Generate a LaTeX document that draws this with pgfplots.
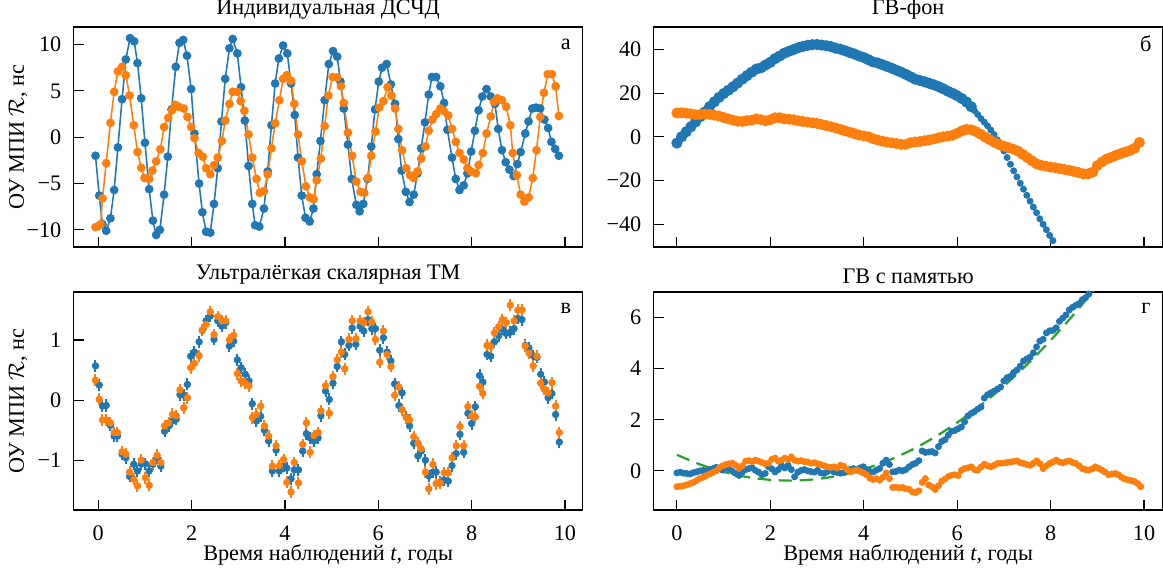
\documentclass[border=0pt]{standalone}
\usepackage{fontspec}
\setmainfont{Liberation Serif}
\usepackage{pgfplots}
\pgfplotsset{compat=1.18}
\definecolor{tblue}{HTML}{1F77B4}
\definecolor{torange}{HTML}{FF7F0E}
\definecolor{tgreen}{HTML}{2CA02C}
\pgfplotsset{
  every axis title shift=0pt,
  panel/.style={scale only axis, width=229.1pt,
    tick align=inside, xtick pos=bottom, ytick pos=left, major tick length=4.5pt,
    xtick={0,2,4,6,8,10}, xticklabels={},
    axis line style={line width=0.7pt}, tick style={black, line width=0.5pt},
    yticklabel style={xshift=-2pt},
    xticklabel style={yshift=-3.4pt},
    ylabel style={at={(axis description cs:-0.109,0.5)}, anchor=center},
    xlabel style={at={(axis description cs:0.5,-0.206)}, anchor=center},
  },
  leftcol/.style={xmin=-0.53, xmax=10.38, ylabel={ОУ МПИ $\mathcal{R}$, нс}},
  rightcol/.style={xmin=-0.5, xmax=10.4},
  bottomrow/.style={xticklabels={0,2,4,6,8,10}, xlabel={Время наблюдений \textit{t}, годы}},
}
\begin{document}
\begin{tikzpicture}
\useasboundingbox (0,0) rectangle (523.35pt,258.3pt);

% а: individual
\begin{axis}[panel, leftcol, at={(33.1pt,147.15pt)}, anchor=south west, height=99pt,
  ymin=-11.85, ymax=11.9, ytick={-10,-5,0,5,10}, yticklabels={−10,−5,0,5,10},
  title={Индивидуальная ДСЧД}]
\addplot[tblue, line width=0.7pt, mark=*, mark size=1.6pt] coordinates {
(-0.06,-2.0) (0.02,-6.3) (0.09,-9.4) (0.17,-10.1) (0.26,-8.75) (0.34,-5.7) (0.42,-1.1) (0.51,4.1) (0.59,8.4) (0.68,10.7) (0.77,10.35) (0.84,8.0) (0.92,4.2) (1.0,-0.6) (1.09,-5.6) (1.17,-9.0) (1.24,-10.55) (1.32,-10.0) (1.41,-6.2) (1.49,-2.1) (1.57,3.0) (1.66,7.6) (1.74,10.2) (1.82,10.5) (1.90,8.8) (1.99,5.2) (2.06,0.4) (2.16,-5.0) (2.23,-8.1) (2.31,-10.2) (2.40,-10.3) (2.48,-7.2) (2.56,-3.35) (2.64,1.7) (2.72,6.3) (2.81,9.6) (2.88,10.6) (2.98,9.05) (3.06,5.4) (3.14,1.8) (3.22,-3.1) (3.30,-7.2) (3.36,-9.5) (3.45,-9.65) (3.55,-7.7) (3.63,-3.7) (3.71,1.3) (3.79,5.8) (3.87,8.5) (3.96,9.9) (4.05,9.05) (4.13,5.8) (4.21,2.4) (4.28,-2.2) (4.36,-6.3) (4.44,-8.7) (4.53,-9.1) (4.61,-7.7) (4.68,-4.0) (4.76,-0.4) (4.85,4.0) (4.94,7.9) (5.03,9.3) (5.12,8.7) (5.19,6.0) (5.26,3.1) (5.35,-0.8) (5.43,-4.5) (5.53,-7.3) (5.60,-8.0) (5.68,-7.2) (5.77,-4.5) (5.85,-1.0) (5.93,3.0) (6.01,6.0) (6.08,7.5) (6.18,7.9) (6.27,5.7) (6.36,3.6) (6.43,-0.2) (6.50,-3.6) (6.59,-5.9) (6.67,-7.0) (6.76,-6.2) (6.84,-3.9) (6.92,-1.2) (7.00,1.6) (7.08,4.6) (7.15,6.5) (7.24,6.5) (7.33,5.5) (7.41,3.7) (7.48,0.8) (7.58,-2.2) (7.66,-4.5) (7.74,-5.7) (7.83,-5.2) (7.91,-3.9) (7.99,-1.55) (8.07,0.7) (8.15,2.9) (8.23,4.4) (8.32,5.2) (8.41,4.4) (8.50,3.6) (8.57,0.9) (8.65,-1.4) (8.73,-2.7) (8.81,-3.5) (8.90,-4.2) (8.98,-2.9) (9.05,-1.6) (9.15,0.4) (9.22,1.7) (9.30,3.1) (9.38,3.2) (9.47,3.1) (9.56,1.9) (9.64,1.0) (9.71,-0.5) (9.79,-1.26) (9.87,-2.0)
};
\addplot[torange, line width=0.7pt, mark=*, mark size=1.6pt] coordinates {
(-0.06,-9.7) (0.0,-9.6) (0.05,-9.4) (0.09,-6.6) (0.17,-2.8) (0.26,1.55) (0.34,4.9) (0.42,7.1) (0.51,7.6) (0.59,6.7) (0.67,4.5) (0.76,1.3) (0.84,-1.6) (0.92,-3.3) (0.99,-4.4) (1.09,-4.5) (1.16,-3.6) (1.24,-2.6) (1.33,-1.3) (1.41,1.1) (1.50,2.1) (1.58,2.9) (1.65,3.5) (1.72,3.3) (1.83,3.1) (1.91,2.2) (1.99,1.1) (2.06,-0.1) (2.15,-1.7) (2.24,-2.1) (2.31,-3.35) (2.40,-4.0) (2.48,-3.0) (2.56,-2.2) (2.65,-0.4) (2.72,1.8) (2.81,3.6) (2.88,4.9) (2.98,4.9) (3.05,3.9) (3.13,2.85) (3.22,0.3) (3.30,-2.2) (3.39,-4.5) (3.46,-6.0) (3.55,-5.8) (3.63,-4.0) (3.71,-1.2) (3.79,1.5) (3.88,4.0) (3.96,6.3) (4.04,6.7) (4.13,6.1) (4.20,3.6) (4.28,0.3) (4.36,-2.6) (4.45,-5.3) (4.53,-6.5) (4.61,-6.7) (4.68,-4.65) (4.77,-2.3) (4.85,1.2) (4.93,4.5) (5.02,6.5) (5.12,6.45) (5.20,5.5) (5.26,3.7) (5.35,0.5) (5.44,-2.0) (5.53,-4.8) (5.62,-5.9) (5.70,-6.0) (5.78,-4.4) (5.85,-2.0) (5.94,0.6) (6.02,3.2) (6.11,3.9) (6.20,5.4) (6.28,4.5) (6.36,3.1) (6.43,0.9) (6.51,-1.4) (6.60,-3.35) (6.68,-4.1) (6.76,-4.4) (6.84,-3.7) (6.92,-2.3) (7.01,-1.0) (7.08,0.7) (7.16,1.9) (7.24,2.5) (7.33,3.1) (7.40,2.85) (7.50,2.35) (7.58,0.9) (7.66,-0.5) (7.74,-1.7) (7.83,-2.4) (7.91,-3.35) (7.99,-3.7) (8.09,-3.9) (8.15,-3.0) (8.24,-1.7) (8.32,0.4) (8.41,2.25) (8.48,3.8) (8.55,4.2) (8.65,4.0) (8.74,3.3) (8.83,1.3) (8.88,-1.7) (8.97,-4.1) (9.05,-6.2) (9.13,-6.95) (9.22,-6.5) (9.31,-4.4) (9.39,-1.4) (9.47,2.2) (9.55,4.8) (9.63,6.8) (9.72,6.8) (9.80,5.5) (9.87,2.3)
};
\node at (rel axis cs:0.967,0.923) {а};
\end{axis}

% б: GW background
\begin{axis}[panel, rightcol, at={(294.1pt,147.15pt)}, anchor=south west, height=99pt,
  ymin=-50.5, ymax=50.3, ytick={-40,-20,0,20,40}, yticklabels={−40,−20,0,20,40},
  title={ГВ-фон}]
\addplot[tblue, line width=2.2pt, mark=*, mark size=1.35pt] coordinates {
(0.0,-2.9) (0.1,0.0) (0.2,2.3) (0.3,4.6) (0.4,6.8) (0.5,9.2) (0.6,11.4) (0.7,13.8) (0.8,16.0) (0.9,18.0) (1.0,19.8) (1.1,21.3) (1.2,22.9) (1.3,24.6) (1.4,26.4) (1.5,28.0) (1.6,29.6) (1.7,31.0) (1.8,31.6) (1.9,32.9) (2.0,34.1) (2.1,35.8) (2.2,37.0) (2.3,38.3) (2.4,39.2) (2.5,40.0) (2.6,40.8) (2.7,41.4) (2.8,41.9) (2.9,42.2) (3.0,42.3) (3.1,42.0) (3.2,41.7) (3.3,41.3) (3.4,40.6) (3.5,40.1) (3.6,39.4) (3.7,38.6) (3.8,37.9) (3.9,37.0) (4.0,36.3) (4.1,35.3) (4.2,34.3) (4.3,33.8) (4.4,33.0) (4.5,32.2) (4.6,31.4) (4.7,30.5) (4.8,29.6) (4.9,28.6) (5.0,27.5) (5.1,26.4) (5.2,25.8) (5.3,25.2) (5.4,24.5) (5.5,23.8) (5.6,23.0) (5.7,22.0) (5.8,20.9) (5.9,19.9) (6.0,18.8) (6.1,17.5) (6.2,15.9) (6.3,13.8)
};
\addplot[tblue, only marks, mark=*, mark size=1.35pt] coordinates {
(6.37,12.0) (6.44,10.2) (6.51,8.3) (6.58,6.7) (6.65,5.0) (6.72,3.1) (6.79,1.0) (6.86,-1.4) (6.93,-3.6) (7.00,-6.5) (7.07,-9.5) (7.14,-12.6) (7.21,-15.6) (7.28,-18.4) (7.35,-21.3) (7.42,-24.0) (7.49,-26.8) (7.56,-29.5) (7.63,-32.2) (7.70,-34.8) (7.77,-37.6) (7.84,-40.1) (7.91,-42.6) (7.98,-45.2) (8.05,-47.6)
};
\addplot[torange, line width=2.2pt, mark=*, mark size=1.3pt] coordinates {
(0.0,10.9) (0.1,11.0) (0.2,10.8) (0.3,10.5) (0.4,10.1) (0.5,10.2) (0.6,10.4) (0.7,10.3) (0.8,9.9) (0.9,9.5) (1.0,8.8) (1.1,8.2) (1.2,7.6) (1.3,7.1) (1.4,7.0) (1.5,7.4) (1.6,7.6) (1.7,8.2) (1.8,7.8) (1.9,7.3) (2.0,7.8) (2.1,8.7) (2.2,8.7) (2.3,8.2) (2.4,8.0) (2.5,7.8) (2.6,7.3) (2.7,7.0) (2.8,6.7) (2.9,6.4) (3.0,6.1) (3.1,5.6) (3.2,5.1) (3.3,4.6) (3.4,4.0) (3.5,3.4) (3.6,2.7) (3.7,2.1) (3.8,1.4) (3.9,0.8) (4.0,0.4) (4.1,0.0) (4.2,-0.9) (4.3,-1.5) (4.4,-2.0) (4.5,-2.5) (4.6,-2.8) (4.7,-3.1) (4.8,-3.5) (4.9,-3.5) (5.0,-2.7) (5.1,-2.4) (5.2,-2.2) (5.3,-1.8) (5.4,-1.5) (5.5,-1.0) (5.6,-0.5) (5.7,0.0) (5.8,0.3) (5.9,0.7) (6.0,1.6) (6.1,2.7) (6.2,3.4) (6.3,3.2) (6.4,2.4) (6.5,1.2) (6.6,-0.2) (6.7,-1.4) (6.8,-2.6) (6.9,-3.6) (7.0,-4.3) (7.1,-5.0) (7.2,-5.7) (7.3,-6.6) (7.4,-8.0) (7.5,-9.5) (7.6,-11.0) (7.7,-12.4) (7.8,-13.1) (7.9,-13.5) (8.0,-13.9) (8.1,-14.2) (8.2,-14.6) (8.3,-15.0) (8.4,-15.4) (8.5,-15.9) (8.6,-16.4) (8.7,-17.0) (8.8,-17.0) (8.9,-16.2) (9.0,-13.2) (9.1,-11.5) (9.2,-10.2) (9.3,-9.4) (9.4,-8.5) (9.5,-7.7) (9.6,-7.0) (9.7,-6.3) (9.8,-5.2) (9.9,-2.6)
};
\node at (rel axis cs:0.967,0.923) {б};
\end{axis}

% в: ultralight scalar DM
\begin{axis}[panel, leftcol, bottomrow, at={(33.1pt,28.8pt)}, anchor=south west, height=98.1pt,
  ymin=-1.83, ymax=1.8, ytick={-1,0,1}, yticklabels={−1,0,1},
  title={Ультралёгкая скалярная ТМ}]
\addplot[tblue, only marks, mark=*, mark size=1.45pt,
  error bars/.cd, y dir=both, y fixed=0.1, error mark=none, error bar style={line width=0.9pt}] coordinates {
(-0.06,0.57) (0.02,0.25) (0.09,-0.10) (0.17,-0.09) (0.26,-0.42) (0.34,-0.60) (0.41,-0.60) (0.51,-0.90) (0.59,-0.96) (0.67,-1.27) (0.76,-1.07) (0.84,-1.18) (0.92,-1.06) (1.01,-1.06) (1.09,-1.18) (1.17,-1.07) (1.26,-0.96) (1.34,-1.10) (1.42,-0.52) (1.51,-0.43) (1.59,-0.35) (1.67,-0.32) (1.75,0.09) (1.83,0.08) (1.91,0.26) (1.98,0.73) (2.06,0.80) (2.16,0.97) (2.23,1.16) (2.31,1.32) (2.40,1.40) (2.48,1.01) (2.56,1.32) (2.65,1.23) (2.73,1.29) (2.81,0.90) (2.90,0.98) (2.98,0.67) (3.06,0.54) (3.15,0.43) (3.23,0.32) (3.30,-0.06) (3.39,-0.35) (3.48,-0.27) (3.56,-0.50) (3.65,-0.68) (3.73,-1.18) (3.81,-0.83) (3.88,-1.18) (3.97,-1.10) (4.04,-1.13) (4.13,-1.31) (4.20,-1.16) (4.29,-1.16) (4.38,-0.85) (4.46,-0.56) (4.54,-0.63) (4.62,-0.68) (4.71,-0.63) (4.77,-0.26) (4.87,0.15) (4.95,0.01) (5.03,0.28) (5.12,0.56) (5.21,0.97) (5.28,0.76) (5.37,0.91) (5.44,1.20) (5.52,0.93) (5.61,1.23) (5.69,1.15) (5.78,1.34) (5.86,1.19) (5.94,1.19) (6.03,0.83) (6.11,1.04) (6.19,0.80) (6.27,0.65) (6.35,0.27) (6.44,-0.09) (6.51,0.12) (6.60,-0.28) (6.67,-0.43) (6.76,-0.72) (6.85,-0.93) (6.92,-0.85) (7.01,-1.00) (7.08,-1.26) (7.17,-1.20) (7.24,-1.20) (7.33,-1.37) (7.41,-1.33) (7.50,-1.35) (7.58,-1.09) (7.67,-0.89) (7.75,-0.57) (7.83,-0.87) (7.92,-0.22) (8.00,-0.39) (8.08,-0.11) (8.17,0.41) (8.24,0.30) (8.33,0.76) (8.41,0.73) (8.49,0.97) (8.58,1.07) (8.66,1.18) (8.74,1.11) (8.83,1.13) (8.91,1.19) (8.99,1.36) (9.08,1.34) (9.15,0.91) (9.23,0.87) (9.32,0.74) (9.40,0.71) (9.48,0.43) (9.56,0.30) (9.64,0.04) (9.72,0.11) (9.80,-0.24) (9.88,-0.70)
};
\addplot[torange, only marks, mark=*, mark size=1.45pt,
  error bars/.cd, y dir=both, y fixed=0.1, error mark=none, error bar style={line width=0.9pt}] coordinates {
(-0.06,0.33) (0.02,0.01) (0.09,-0.33) (0.17,-0.33) (0.26,-0.38) (0.34,-0.54) (0.41,-0.54) (0.51,-0.86) (0.59,-0.90) (0.67,-1.20) (0.76,-1.32) (0.84,-1.43) (0.92,-1.00) (1.01,-1.29) (1.09,-1.42) (1.17,-1.04) (1.26,-0.92) (1.34,-1.04) (1.42,-0.43) (1.51,-0.38) (1.59,-0.24) (1.67,-0.26) (1.75,0.17) (1.83,-0.13) (1.91,0.04) (1.98,0.54) (2.06,0.61) (2.16,0.74) (2.23,1.17) (2.31,1.26) (2.40,1.47) (2.48,1.09) (2.56,1.39) (2.65,1.32) (2.73,1.32) (2.81,1.00) (2.90,1.08) (2.98,0.44) (3.06,0.32) (3.15,0.28) (3.23,0.24) (3.30,-0.29) (3.39,-0.24) (3.48,-0.10) (3.56,-0.43) (3.65,-0.60) (3.73,-1.10) (3.81,-0.76) (3.88,-1.09) (3.97,-0.99) (4.04,-1.37) (4.13,-1.53) (4.20,-1.04) (4.29,-1.38) (4.38,-0.74) (4.46,-0.38) (4.54,-0.87) (4.62,-0.59) (4.71,-0.54) (4.77,-0.18) (4.87,0.24) (4.95,-0.22) (5.03,0.39) (5.12,0.67) (5.21,0.80) (5.28,0.52) (5.37,1.01) (5.44,1.32) (5.52,1.02) (5.61,1.32) (5.69,1.29) (5.78,1.47) (5.86,1.30) (5.94,1.01) (6.03,0.63) (6.11,1.15) (6.19,0.76) (6.27,0.56) (6.35,0.08) (6.44,0.22) (6.51,-0.16) (6.60,-0.29) (6.67,-0.33) (6.76,-0.61) (6.85,-0.72) (6.92,-0.81) (7.01,-1.20) (7.08,-1.48) (7.17,-1.07) (7.24,-1.39) (7.33,-1.38) (7.41,-1.21) (7.50,-1.21) (7.58,-0.96) (7.67,-0.76) (7.75,-0.44) (7.83,-0.76) (7.92,-0.11) (8.00,-0.27) (8.08,-0.28) (8.17,0.23) (8.24,0.11) (8.33,0.91) (8.41,0.89) (8.49,1.12) (8.58,1.22) (8.66,1.34) (8.74,1.29) (8.83,1.58) (8.91,1.32) (8.99,1.50) (9.08,1.50) (9.15,0.90) (9.23,0.78) (9.32,0.57) (9.40,0.73) (9.48,0.28) (9.56,0.18) (9.64,0.12) (9.72,0.29) (9.80,-0.10) (9.88,-0.54)
};
\node at (rel axis cs:0.967,0.923) {в};
\end{axis}

% г: GW memory
\begin{axis}[panel, rightcol, bottomrow, at={(294.1pt,28.8pt)}, anchor=south west, height=98.1pt,
  ymin=-1.53, ymax=7.0, ytick={0,2,4,6}, yticklabels={0,2,4,6},
  title={ГВ с памятью}]
\addplot[tblue, only marks, mark=*, mark size=1.35pt] coordinates {
(0.00,-0.08) (0.07,-0.05) (0.14,-0.09) (0.21,-0.10) (0.28,-0.12) (0.35,-0.07) (0.42,-0.04) (0.49,0.00) (0.56,0.02) (0.63,0.01) (0.70,0.05) (0.77,0.09) (0.84,0.14) (0.91,0.10) (0.98,0.03) (1.05,0.15) (1.12,0.07) (1.19,-0.02) (1.26,-0.10) (1.33,-0.18) (1.40,-0.05) (1.47,0.05) (1.54,0.09) (1.61,0.12) (1.68,0.02) (1.75,-0.05) (1.82,-0.15) (1.89,-0.10) (1.96,0.16) (2.03,0.08) (2.10,-0.04) (2.17,0.05) (2.24,0.20) (2.31,0.12) (2.38,0.22) (2.45,0.05) (2.52,-0.23) (2.59,-0.05) (2.66,0.02) (2.73,0.05) (2.80,0.00) (2.87,-0.03) (2.94,-0.05) (3.01,0.02) (3.08,-0.08) (3.15,-0.10) (3.22,-0.03) (3.29,0.04) (3.36,-0.04) (3.43,-0.06) (3.50,-0.09) (3.57,-0.07) (3.64,0.02) (3.71,0.06) (3.78,0.09) (3.85,0.05) (3.92,0.12) (3.99,0.16) (4.06,0.05) (4.13,-0.02) (4.20,-0.04) (4.27,0.03) (4.34,0.09) (4.41,0.30) (4.48,0.42) (4.55,0.25) (4.62,-0.04) (4.69,-0.02) (4.76,0.03) (4.83,0.00) (4.90,0.05) (4.97,0.16) (5.04,0.25) (5.11,0.30) (5.18,0.40) (5.25,0.78) (5.32,0.72) (5.39,0.74) (5.46,0.76) (5.53,0.70) (5.60,0.95) (5.67,1.15) (5.74,1.22) (5.81,1.40) (5.88,1.55) (5.95,1.58) (6.02,1.65) (6.09,1.72) (6.16,1.92) (6.23,2.15) (6.30,2.25) (6.37,2.32) (6.44,2.42) (6.51,2.50) (6.58,2.85) (6.65,2.98) (6.72,3.05) (6.79,3.12) (6.86,3.20) (6.93,3.28) (7.00,3.52) (7.07,3.65) (7.14,3.70) (7.21,3.85) (7.28,3.95) (7.35,4.10) (7.42,4.30) (7.49,4.38) (7.56,4.45) (7.63,4.62) (7.70,4.85) (7.77,5.08) (7.84,5.15) (7.91,5.40) (7.98,5.48) (8.05,5.50) (8.12,5.60) (8.19,5.85) (8.26,5.98) (8.33,6.10) (8.40,6.30) (8.47,6.40) (8.54,6.48) (8.61,6.55) (8.68,6.70) (8.75,6.78) (8.82,6.92) (8.89,7.05)
};
\addplot[torange, only marks, mark=*, mark size=1.35pt] coordinates {
(0.00,-0.62) (0.07,-0.60) (0.14,-0.58) (0.21,-0.55) (0.28,-0.50) (0.35,-0.45) (0.42,-0.38) (0.49,-0.30) (0.56,-0.25) (0.63,-0.18) (0.70,-0.12) (0.77,-0.06) (0.84,0.00) (0.91,0.12) (0.98,0.20) (1.05,0.25) (1.12,0.28) (1.19,0.30) (1.26,0.22) (1.33,0.10) (1.40,0.20) (1.47,0.38) (1.54,0.40) (1.61,0.36) (1.68,0.42) (1.75,0.38) (1.82,0.33) (1.89,0.28) (1.96,0.30) (2.03,0.45) (2.10,0.50) (2.17,0.38) (2.24,0.42) (2.31,0.50) (2.38,0.45) (2.45,0.55) (2.52,0.42) (2.59,0.38) (2.66,0.40) (2.73,0.36) (2.80,0.35) (2.87,0.30) (2.94,0.32) (3.01,0.28) (3.08,0.25) (3.15,0.20) (3.22,0.16) (3.29,0.14) (3.36,0.16) (3.43,0.12) (3.50,0.22) (3.57,0.18) (3.64,0.05) (3.71,-0.04) (3.78,0.00) (3.85,0.03) (3.92,-0.02) (3.99,-0.08) (4.06,-0.15) (4.13,-0.28) (4.20,-0.34) (4.27,-0.30) (4.34,-0.36) (4.41,-0.25) (4.48,-0.08) (4.55,-0.30) (4.62,-0.65) (4.69,-0.64) (4.76,-0.66) (4.83,-0.65) (4.90,-0.70) (4.97,-0.72) (5.04,-0.82) (5.11,-0.85) (5.18,-0.78) (5.25,-0.45) (5.32,-0.30) (5.39,-0.55) (5.46,-0.62) (5.53,-0.73) (5.60,-0.58) (5.67,-0.40) (5.74,-0.32) (5.81,-0.22) (5.88,-0.17) (5.95,-0.15) (6.02,-0.18) (6.09,0.02) (6.16,0.09) (6.23,0.12) (6.30,0.16) (6.37,0.05) (6.44,0.03) (6.51,0.15) (6.58,0.26) (6.65,0.20) (6.72,0.16) (6.79,0.22) (6.86,0.29) (6.93,0.30) (7.00,0.31) (7.07,0.33) (7.14,0.35) (7.21,0.37) (7.28,0.39) (7.35,0.32) (7.42,0.29) (7.49,0.25) (7.56,0.22) (7.63,0.30) (7.70,0.39) (7.77,0.28) (7.84,0.09) (7.91,0.20) (7.98,0.29) (8.05,0.35) (8.12,0.42) (8.19,0.35) (8.26,0.31) (8.33,0.36) (8.40,0.39) (8.47,0.33) (8.54,0.29) (8.61,0.20) (8.68,0.09) (8.75,0.05) (8.82,0.03) (8.89,0.08) (8.96,0.16) (9.03,0.10) (9.10,0.03) (9.17,-0.05) (9.24,-0.15) (9.31,-0.12) (9.38,-0.10) (9.45,-0.15) (9.52,-0.25) (9.59,-0.32) (9.66,-0.35) (9.73,-0.38) (9.80,-0.42) (9.87,-0.50) (9.93,-0.62)
};
\addplot[tgreen, line width=1pt, dash pattern=on 6pt off 3.5pt, smooth] coordinates {
(0.0,0.63) (0.5,0.25) (1.0,-0.04) (1.5,-0.24) (2.0,-0.35) (2.5,-0.38) (3.0,-0.32) (3.5,-0.17) (4.0,0.07) (4.5,0.39) (5.0,0.80) (5.5,1.30) (6.0,1.89) (6.5,2.56) (7.0,3.32) (7.5,4.17) (8.0,5.11) (8.5,6.13) (9.0,7.24)
};
\node at (rel axis cs:0.967,0.923) {г};
\end{axis}
\end{tikzpicture}
\end{document}
